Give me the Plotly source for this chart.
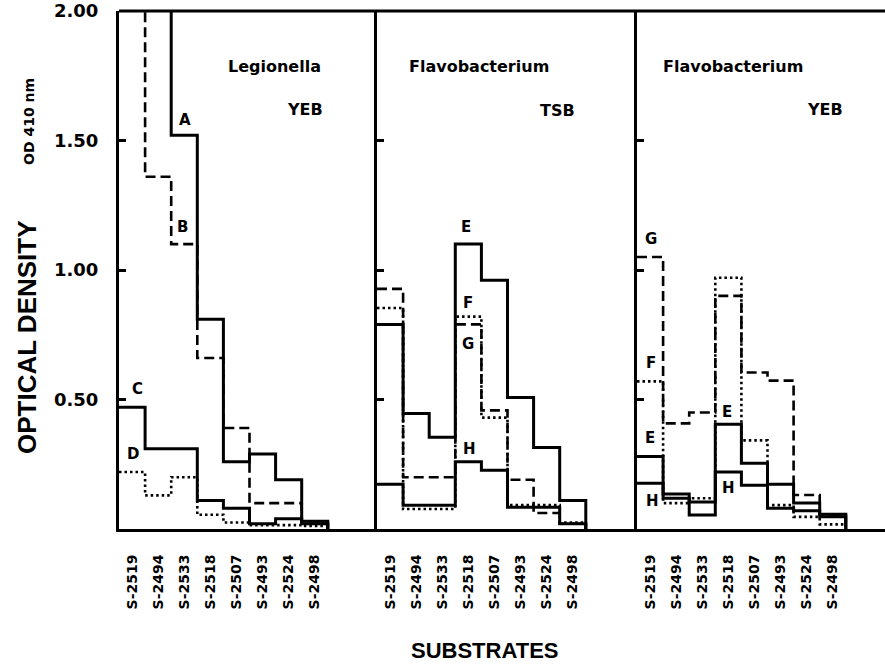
import plotly.graph_objects as go

substrates = ["S-2519", "S-2494", "S-2533", "S-2518", "S-2507", "S-2493", "S-2524", "S-2498"]
y_ticks = [0.5, 1.0, 1.5, 2.0]
y_tick_text = ["0.50", "1.00", "1.50", "2.00"]

# Panel 1: Legionella, YEB  (values above 2.00 run off the top of the scale)
leg_A = [2.30, 2.30, 1.52, 0.81, 0.26, 0.29, 0.19, 0.03]
leg_B = [2.30, 1.36, 1.10, 0.66, 0.39, 0.10, 0.10, 0.02]
leg_C = [0.47, 0.31, 0.31, 0.11, 0.08, 0.02, 0.04, 0.02]
leg_D = [0.22, 0.13, 0.20, 0.055, 0.025, 0.015, 0.015, 0.012]

# Panel 2: Flavobacterium, TSB
tsb_E = [0.79, 0.446, 0.354, 1.10, 0.96, 0.508, 0.315, 0.11]
tsb_F = [0.853, 0.077, 0.077, 0.82, 0.43, 0.092, 0.092, 0.025]
tsb_G = [0.927, 0.20, 0.20, 0.79, 0.458, 0.19, 0.062, 0.02]
tsb_H = [0.173, 0.092, 0.092, 0.26, 0.227, 0.084, 0.084, 0.02]

# Panel 3: Flavobacterium, YEB
yeb_E = [0.28, 0.135, 0.104, 0.404, 0.254, 0.173, 0.10, 0.057]
yeb_F = [0.57, 0.10, 0.119, 0.97, 0.342, 0.092, 0.047, 0.018]
yeb_G = [1.05, 0.408, 0.45, 0.90, 0.604, 0.573, 0.131, 0.054]
yeb_H = [0.177, 0.119, 0.054, 0.22, 0.169, 0.08, 0.07, 0.047]

STYLE = {
    "solid": dict(color="black", width=3, dash="solid"),
    "dash": dict(color="black", width=2.6, dash="10px,5px"),
    "dot": dict(color="black", width=2.6, dash="2.5px,3px"),
}

panels = [
    ("x", "y", [(leg_A, "solid"), (leg_B, "dash"), (leg_C, "solid"), (leg_D, "dot")]),
    ("x2", "y2", [(tsb_E, "solid"), (tsb_F, "dot"), (tsb_G, "dash"), (tsb_H, "solid")]),
    ("x3", "y3", [(yeb_E, "solid"), (yeb_F, "dot"), (yeb_G, "dash"), (yeb_H, "solid")]),
]

fig = go.Figure()
edges = list(range(len(substrates) + 1))
for xa, ya, series in panels:
    for vals, sty in series:
        fig.add_trace(go.Scatter(
            x=edges, y=list(vals) + [0], mode="lines", line_shape="hv",
            line=STYLE[sty], xaxis=xa, yaxis=ya, showlegend=False, hoverinfo="skip",
        ))

W, H = 885, 665
ML, MR, MT, MB = 119, 0, 11, 136
pw = W - ML - MR
d1 = 258 / pw
d2 = 518 / pw
bin_px = 26.1

tickfont = dict(family="DejaVu Sans", size=14, color="black", weight="bold")
centers = [i + 0.5 for i in range(len(substrates))]

def xaxis(dom, width_px):
    return dict(domain=dom, range=[0, width_px / bin_px], showline=True, linewidth=3,
                linecolor="black", showgrid=False, zeroline=False, ticks="",
                tickvals=centers, ticktext=substrates, tickangle=-90,
                tickfont=tickfont, ticklabelstandoff=17, fixedrange=True)

def yaxis(anchor, labels):
    return dict(anchor=anchor, range=[0, 2.0], showline=True, linewidth=3, linecolor="black",
                showgrid=False, zeroline=False, ticks="inside", ticklen=7, tickwidth=2.5,
                tickcolor="black", tickvals=y_ticks, ticktext=y_tick_text,
                showticklabels=labels,
                tickfont=dict(family="DejaVu Sans", size=18, color="black", weight="bold"),
                ticklabelstandoff=14, fixedrange=True)

lab_font = dict(family="DejaVu Sans", size=15, color="black")
title_font = dict(family="DejaVu Sans", size=16, color="black")

annotations = []
def lab(text, xa, ya, x, y, font=lab_font, xanchor="center"):
    annotations.append(dict(text="<b>%s</b>" % text, x=x, y=y, xref=xa, yref=ya,
                            showarrow=False, font=font, xanchor=xanchor, yanchor="middle"))

# curve letters
lab("A", "x", "y", 2.53, 1.58)
lab("B", "x", "y", 2.45, 1.165)
lab("C", "x", "y", 0.69, 0.54)
lab("D", "x", "y", 0.54, 0.29)
lab("E", "x2", "y2", 3.41, 1.165)
lab("F", "x2", "y2", 3.49, 0.873)
lab("G", "x2", "y2", 3.49, 0.715)
lab("H", "x2", "y2", 3.56, 0.31)
lab("G", "x3", "y3", 0.54, 1.12)
lab("F", "x3", "y3", 0.54, 0.64)
lab("E", "x3", "y3", 0.50, 0.35)
lab("H", "x3", "y3", 0.61, 0.11)
lab("E", "x3", "y3", 3.45, 0.45)
lab("H", "x3", "y3", 3.49, 0.16)

# panel titles
lab("Legionella", "x", "y", 4.1, 1.785, title_font, "left")
lab("YEB", "x", "y", 7.13, 1.62, title_font)
lab("Flavobacterium", "x2", "y2", 1.15, 1.785, title_font, "left")
lab("TSB", "x2", "y2", 6.93, 1.615, title_font)
lab("Flavobacterium", "x3", "y3", 0.92, 1.785, title_font, "left")
lab("YEB", "x3", "y3", 7.2, 1.62, title_font)

# axis titles
annotations.append(dict(text="<b>OPTICAL DENSITY</b>", xref="paper", yref="paper",
                        x=-92 / pw, y=(529 - 337) / 518, textangle=-90, showarrow=False,
                        font=dict(family="Liberation Sans", size=26, color="black"),
                        xanchor="center", yanchor="middle"))
annotations.append(dict(text="<b>OD 410 nm</b>", xref="paper", yref="paper",
                        x=-90 / pw, y=(529 - 122) / 518, textangle=-90, showarrow=False,
                        font=dict(family="DejaVu Sans", size=14, color="black"),
                        xanchor="center", yanchor="middle"))
annotations.append(dict(text="<b>SUBSTRATES</b>", xref="paper", yref="paper",
                        x=(485 - ML) / pw, y=-(650 - 529) / 518, showarrow=False,
                        font=dict(family="Liberation Sans", size=22, color="black"),
                        xanchor="center", yanchor="middle"))

fig.update_layout(
    width=W, height=H, margin=dict(l=ML, r=MR, t=MT, b=MB),
    paper_bgcolor="white", plot_bgcolor="white",
    xaxis=xaxis([0, d1], 258),
    xaxis2=xaxis([d1, d2], 260),
    xaxis3=xaxis([d2, 1], 248),
    yaxis=yaxis("x", True),
    yaxis2=yaxis("x2", False),
    yaxis3=yaxis("x3", False),
    annotations=annotations,
    shapes=[dict(type="line", xref="paper", yref="paper", x0=0, x1=1, y0=1, y1=1,
                 line=dict(color="black", width=3))],
)

fig.write_html("out.html", config={"displayModeBar": False},
               post_script="document.body.style.margin='0px';")
